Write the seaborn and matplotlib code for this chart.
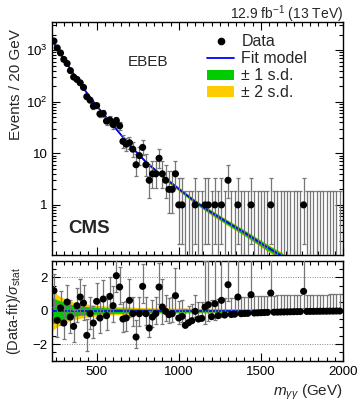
import math
import numpy as np
import pandas as pd
import matplotlib
matplotlib.use("Agg")
import matplotlib.pyplot as plt
import seaborn as sns
from matplotlib.lines import Line2D
from matplotlib.patches import Patch
from matplotlib.ticker import MultipleLocator, FixedLocator, LogLocator, NullFormatter

# bins of 20 GeV, centres 240 ... 1980
mass = np.arange(240, 2000, 20)

counts = [1500, 1100, 880, 660, 550, 400, 300, 270, 232, 189,
          125, 107, 82, 84, 58, 59, 42, 44, 36, 43,
          34, 17, 15, 16, 12, 6, 9, 13, 6, 3,
          4, 4, 8, 4, 3, 2, 2, 4, 1, 1,
          0, 0, 0, 1, 0, 0, 1, 1, 0, 1,
          0, 1, 0, 3, 0, 0, 1, 0, 0, 0,
          1, 0, 0, 0, 0, 0, 1, 0, 0, 0,
          0, 0, 0, 0, 0, 0, 1, 0, 0, 0,
          0, 0, 0, 0, 0, 0, 0, 0]

pulls = [1.2, -0.58, 0.16, -0.74, 0.52, -0.38, -0.94, 0.3, 0.82, 0.46,
         -1.48, -0.18, -0.74, 0.56, -0.44, 0.7, -0.3, 0.86, 0.3, 2.1,
         1.42, -0.5, -0.44, 0.62, -0.18, -1.58, -0.18, 1.46, -0.18, -1.04,
         -0.38, -0.18, 1.42, 0.22, -0.04, -0.24, -0.18, 0.9, -0.44, -0.34,
         -0.88, -0.72, -0.6, -0.04, -0.5, -0.46, 0.22, 0.36, -0.36, 0.42,
         -0.3, 0.62, -0.26, 1.56, -0.23, -0.21, 0.82, -0.18, -0.17, -0.16,
         0.96, -0.14, -0.13, -0.12, -0.11, -0.1, 1.06, -0.09, -0.085, -0.08,
         -0.075, -0.07, -0.065, -0.06, -0.055, -0.05, 1.16, -0.045, -0.04, -0.04,
         -0.035, -0.035, -0.03, -0.03, -0.025, -0.025, -0.02, -0.02]

# fit model
fit_mass = [230, 240, 300, 400, 500, 600, 700, 800, 900, 1000, 1100, 1200,
            1300, 1400, 1500, 1600, 1800, 2000]
fit_value = [1550, 1350, 676, 219, 83, 34.7, 14.5, 6.8, 3.6, 2.04, 1.15, 0.71,
             0.45, 0.29, 0.18, 0.115, 0.05, 0.022]
# relative width of the uncertainty bands in the upper panel
band1_rel = [0.015, 0.015, 0.02, 0.025, 0.03, 0.035, 0.04, 0.05, 0.06, 0.07, 0.08, 0.09,
             0.1, 0.11, 0.12, 0.13, 0.15, 0.17]
band2_rel = [0.02, 0.02, 0.026, 0.032, 0.04, 0.045, 0.052, 0.065, 0.078, 0.09, 0.1, 0.115,
             0.13, 0.14, 0.155, 0.17, 0.19, 0.22]

# bands in the pull panel
pband_mass = [230, 260, 300, 350, 400, 500, 600, 800, 1000, 1500, 2000]
pband1 = [0.8, 0.65, 0.5, 0.35, 0.28, 0.2, 0.16, 0.12, 0.1, 0.08, 0.06]
pband2 = [1.2, 0.95, 0.75, 0.55, 0.45, 0.32, 0.25, 0.19, 0.16, 0.12, 0.1]


def pois_cdf(k, mu):
    if k < 0:
        return 0.0
    lm = math.log(mu)
    return sum(math.exp(-mu + i * lm - math.lgamma(i + 1)) for i in range(k + 1))


def garwood(n, a=0.158655):
    # 68% Poisson interval for observed count n
    if n == 0:
        lo = 0.0
    else:
        l, h = 0.0, float(n)
        for _ in range(50):
            m = 0.5 * (l + h)
            if 1 - pois_cdf(n - 1, m) < a:
                l = m
            else:
                h = m
        lo = 0.5 * (l + h)
    l, h = float(n), n + 10 * math.sqrt(n + 1) + 5
    for _ in range(50):
        m = 0.5 * (l + h)
        if pois_cdf(n, m) > a:
            l = m
        else:
            h = m
    return lo, 0.5 * (l + h)


ints = [garwood(n) for n in counts]
lo = np.array([i[0] for i in ints])
hi = np.array([i[1] for i in ints])
cnt = np.array(counts, dtype=float)
pl = np.array(pulls)

# pull error bars in units of sigma_stat
err_lo = np.where(pl >= 0, 1.0, np.where(hi - cnt > 0, (cnt - lo) / (hi - cnt), 0))
err_hi = np.where(pl >= 0, (hi - cnt) / np.maximum(cnt - lo, 1e-9), 1.0)

df = pd.DataFrame({"mass": mass, "counts": cnt, "pull": pl})
fit = pd.DataFrame({"mass": fit_mass, "fit": fit_value})

sns.set_style("ticks")
plt.rcParams["font.family"] = ["Liberation Sans", "DejaVu Sans"]
plt.rcParams["mathtext.fontset"] = "custom"
plt.rcParams["mathtext.rm"] = "Liberation Sans"
plt.rcParams["mathtext.it"] = "Liberation Sans:italic"

fig = plt.figure(figsize=(3.6, 4.05), dpi=100)
ax = fig.add_axes([0.1453, 0.3704, 0.8075, 0.5753])
rx = fig.add_axes([0.1453, 0.1094, 0.8075, 0.2469])

ecol = "#777777"
green = "#00cc00"
yellow = "#ffcc00"

# upper panel
fv = np.array(fit_value)
ax.fill_between(fit_mass, fv * (1 - np.array(band2_rel)), fv * (1 + np.array(band2_rel)),
                color=yellow, lw=0, zorder=1)
ax.fill_between(fit_mass, fv * (1 - np.array(band1_rel)), fv * (1 + np.array(band1_rel)),
                color=green, lw=0, zorder=2)
sns.lineplot(data=fit, x="mass", y="fit", ax=ax, color="#0000ff", lw=1.3, zorder=3)

ylo = np.where(cnt > 0, cnt - lo, 0)
ybase = np.where(cnt > 0, cnt, 1e-3)
ax.errorbar(mass, ybase, yerr=[np.where(cnt > 0, ylo, 0), hi - ybase], fmt="none",
            ecolor=ecol, elinewidth=0.9, capsize=1.6, capthick=0.9, zorder=4)
sns.scatterplot(data=df[df.counts > 0], x="mass", y="counts", ax=ax, color="black",
                s=26, edgecolor="none", zorder=5)

ax.set_yscale("log")
ax.set_xlim(230, 2000)
ax.set_ylim(0.107, 3500)
ax.set_xlabel("")
ax.set_ylabel("Events / 20 GeV", fontsize=11, loc="top")
ax.yaxis.set_major_locator(FixedLocator([1, 10, 100, 1000]))
ax.set_yticklabels(["1", "10", "10$^{2}$", "10$^{3}$"])
ax.yaxis.set_minor_locator(LogLocator(base=10, subs=np.arange(2, 10)))
ax.yaxis.set_minor_formatter(NullFormatter())
ax.tick_params(axis="x", labelbottom=False)

fig.text(0.953, 0.952, "12.9 fb$^{-1}$ (13 TeV)", ha="right", va="baseline", fontsize=10)
ax.text(0.055, 0.095, "CMS", transform=ax.transAxes, fontsize=13.5, fontweight="bold")
ax.text(0.26, 0.81, "EBEB", transform=ax.transAxes, fontsize=11)

handles = [Line2D([], [], marker="o", color="black", ls="none", markersize=4.5),
           Line2D([], [], color="#0000ff", lw=1.3),
           Patch(facecolor=green, edgecolor="none"),
           Patch(facecolor=yellow, edgecolor="none")]
ax.legend(handles, ["Data", "Fit model", "± 1 s.d.", "± 2 s.d."], loc="upper left",
          bbox_to_anchor=(0.575, 0.915), bbox_transform=fig.transFigure, frameon=False,
          fontsize=11.5, handlelength=1.7, handleheight=0.6, labelspacing=0.12,
          handletextpad=0.45, borderpad=0, borderaxespad=0)

# pull panel
rx.fill_between(pband_mass, -np.array(pband2), pband2, color=yellow, lw=0, zorder=1)
rx.fill_between(pband_mass, -np.array(pband1), pband1, color=green, lw=0, zorder=2)
rx.axhline(0, color="#0000ff", lw=1.2, zorder=3)
for yv in (-2, 2):
    rx.axhline(yv, color="#888888", lw=0.7, ls=(0, (1, 1.5)), zorder=0)
rx.errorbar(mass, pl, yerr=[err_lo, err_hi], fmt="none", ecolor=ecol, elinewidth=0.9,
            capsize=1.6, capthick=0.9, zorder=4)
sns.scatterplot(data=df, x="mass", y="pull", ax=rx, color="black", s=26,
                edgecolor="none", zorder=5)
rx.set_xlim(230, 2000)
rx.set_ylim(-3, 3)
rx.yaxis.set_major_locator(FixedLocator([-2, 0, 2]))
rx.yaxis.set_minor_locator(MultipleLocator(0.5))
rx.set_ylabel("(Data-fit)/$\\sigma_{\\rm stat}$", fontsize=10.5)
rx.set_xlabel("$m_{\\gamma\\gamma}$ (GeV)", fontsize=11, loc="right")

for a in (ax, rx):
    a.xaxis.set_major_locator(MultipleLocator(500))
    a.xaxis.set_minor_locator(MultipleLocator(50))
    a.tick_params(which="both", direction="in", top=True, right=True, width=0.8,
                  labelsize=9.5, colors="black")
    a.tick_params(which="major", length=6)
    a.tick_params(which="minor", length=3)
    for s in a.spines.values():
        s.set_linewidth(1.0)
        s.set_color("black")

ax.yaxis.set_label_coords(-0.1, 0.97)
rx.yaxis.set_label_coords(-0.1, 0.5)

fig.savefig("out.png", dpi=100)
